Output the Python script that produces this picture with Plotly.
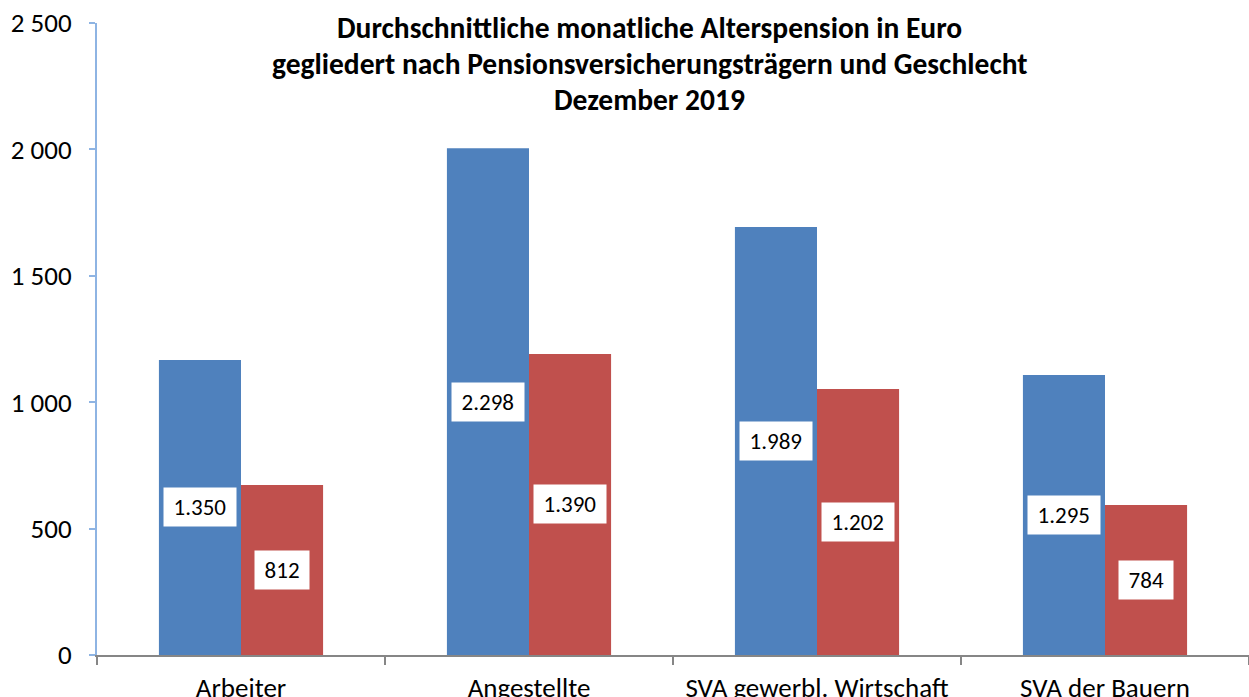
import plotly.graph_objects as go

categories = ["Arbeiter", "Angestellte", "SVA gewerbl. Wirtschaft", "SVA der Bauern"]
blue_values = [1167, 2005, 1693, 1108]
red_values = [672, 1191, 1052, 593]
blue_labels = ["1.350", "2.298", "1.989", "1.295"]
red_labels = ["812", "1.390", "1.202", "784"]
title_lines = [
    "Durchschnittliche monatliche Alterspension in Euro",
    "gegliedert nach Pensionsversicherungsträgern und Geschlecht",
    "Dezember 2019",
]
y_ticks = [0, 500, 1000, 1500, 2000, 2500]

FONT = "Carlito, Lato, sans-serif"
BLUE = "#4F81BD"
RED = "#C0504D"

fig = go.Figure()
fig.add_trace(go.Bar(x=categories, y=blue_values, marker=dict(color=BLUE, line=dict(width=0)), showlegend=False))
fig.add_trace(go.Bar(x=categories, y=red_values, marker=dict(color=RED, line=dict(width=0)), showlegend=False))

annotations = []
for vals, labs, shift in ((blue_values, blue_labels, -41), (red_values, red_labels, 41)):
    for c, v, t in zip(categories, vals, labs):
        annotations.append(dict(x=c, y=v / 2, text="\u2009" + t + "\u2009", xref="x", yref="y",
                                showarrow=False, xshift=shift, bgcolor="white", borderpad=5,
                                font=dict(family=FONT, size=23, color="black")))
for i, line in enumerate(title_lines):
    annotations.append(dict(x=0.48, y=1, xref="paper", yref="paper", text="<b>" + line + "</b>",
                            showarrow=False, yanchor="middle", yshift=-5 - 36 * i,
                            font=dict(family=FONT, size=29.5, color="black")))

fig.update_layout(
    width=1249, height=697,
    margin=dict(l=97, r=0, t=23, b=42),
    paper_bgcolor="white", plot_bgcolor="white",
    barmode="group", bargap=0.43, bargroupgap=0,
    separators=", ",
    font=dict(family=FONT, size=26, color="black"),
    annotations=annotations,
)
fig.update_yaxes(range=[0, 2500], tickvals=y_ticks, tickformat=",d", showgrid=False, zeroline=False,
                 showline=True, linecolor="#8EB4E3", linewidth=2, ticks="outside", ticklen=6,
                 tickcolor="#8EB4E3", tickwidth=2, ticklabelstandoff=12, automargin=False,
                 tickfont=dict(family=FONT, size=27, color="black"))
fig.update_xaxes(showgrid=False, showline=True, linecolor="#868686", linewidth=2, ticks="outside",
                 tickson="boundaries", ticklen=8, tickcolor="#868686", tickwidth=2,
                 ticklabelstandoff=8, automargin=False, tickfont=dict(family=FONT, size=27, color="black"))

fig.write_html("out.html", config={"displayModeBar": False},
               post_script="document.body.style.margin='0';")
